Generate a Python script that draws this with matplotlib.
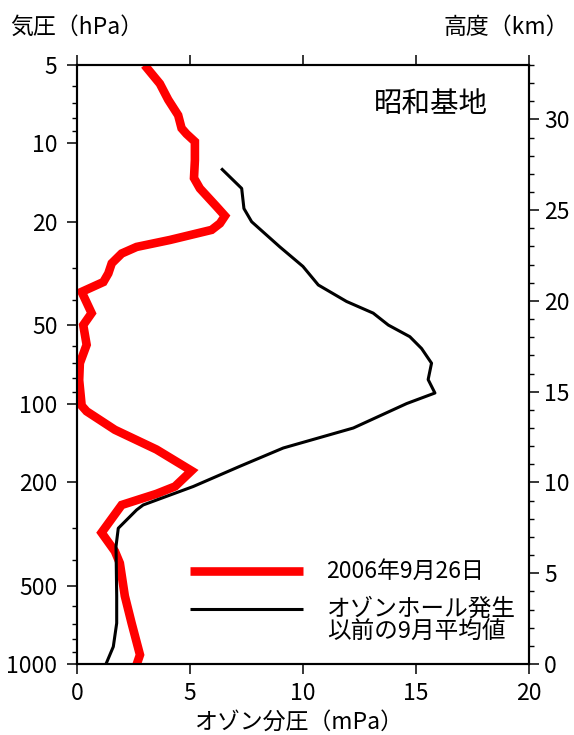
import matplotlib
matplotlib.use('Agg')
import matplotlib.pyplot as plt
from matplotlib.ticker import FixedLocator, FixedFormatter, NullFormatter, MultipleLocator

plt.rcParams['font.family'] = ['Noto Sans CJK JP', 'DejaVu Sans']

# 2006-09-26 profile: pressure (hPa) and ozone partial pressure (mPa)
p_2006 = [5.15, 5.9, 6.8, 7.8, 8.75, 9.2, 9.85, 11.6, 13.6, 14.9, 17.5, 19.0, 20.3,
          21.5, 23.5, 25.0, 26.5, 28.9, 31.6, 34.1, 37.2, 44.9, 49.9, 59.4, 69.9,
          81.2, 101.8, 107, 126, 150, 181, 208, 222, 245, 313, 369, 410, 548, 697,
          922, 989]
o3_2006 = [3.11, 3.67, 4.04, 4.48, 4.63, 4.85, 5.22, 5.22, 5.18, 5.44, 6.18, 6.55, 6.33,
           5.96, 4.12, 2.64, 1.98, 1.54, 1.39, 1.17, 0.21, 0.65, 0.28, 0.43, 0.13,
           0.10, 0.21, 0.43, 1.68, 3.52, 5.07, 4.34, 3.52, 1.98, 1.09, 1.68, 1.90,
           2.12, 2.42, 2.79, 2.67]

# September mean before the ozone hole
p_mean = [12.6, 14.9, 17.8, 20.0, 25.0, 29.7, 35.0, 40.5, 44.9, 49.9, 55.3, 61.4,
          69.9, 80.8, 91.0, 99.9, 124, 148, 174, 208, 245, 256, 301, 353, 548, 697,
          858, 989]
o3_mean = [6.43, 7.29, 7.39, 7.73, 8.98, 10.0, 10.68, 11.93, 13.11, 13.78, 14.73, 15.25,
           15.69, 15.54, 15.84, 14.59, 12.23, 9.13, 7.21, 5.15, 2.93, 2.64, 1.83, 1.73,
           1.76, 1.76, 1.61, 1.31]

p_major = [5, 10, 20, 50, 100, 200, 500, 1000]
p_minor = [6, 7, 8, 9, 30, 40, 60, 70, 80, 90, 300, 400, 600, 700, 800, 900]
x_ticks = [0, 5, 10, 15, 20]
km_ticks = [0, 5, 10, 15, 20, 25, 30]

fig = plt.figure(figsize=(5.74, 7.35), dpi=100)
ax = fig.add_axes([0.134, 0.0966, 0.7875, 0.815])

ax.plot(o3_2006, p_2006, color='#ff0000', lw=6.2, solid_joinstyle='miter', zorder=3)
ax.plot(o3_mean, p_mean, color='black', lw=2.2, zorder=4)

ax.set_yscale('log')
ax.set_ylim(1000, 5)
ax.set_xlim(0, 20)
ax.yaxis.set_major_locator(FixedLocator(p_major))
ax.yaxis.set_minor_locator(FixedLocator(p_minor))
ax.yaxis.set_major_formatter(FixedFormatter([str(v) for v in p_major]))
ax.yaxis.set_minor_formatter(NullFormatter())
ax.xaxis.set_major_locator(FixedLocator(x_ticks))

for s in ax.spines.values():
    s.set_linewidth(1.5)
ax.tick_params(which='major', direction='out', length=7, width=1.1, labelsize=16.5,
               top=True, pad=7)
ax.tick_params(which='minor', direction='out', length=3.5, width=1.0)
ax.tick_params(axis='x', pad=6)

ax2 = ax.twinx()
ax2.set_ylim(0, 33)
ax2.yaxis.set_major_locator(FixedLocator(km_ticks))
ax2.yaxis.set_minor_locator(MultipleLocator(1))
ax2.tick_params(which='major', direction='out', length=7, width=1.1, labelsize=16.5, pad=4)
ax2.tick_params(which='minor', direction='out', length=3.5, width=1.0)
for s in ax2.spines.values():
    s.set_linewidth(1.5)

# station name
ax.text(0.658, 0.935, '昭和基地', transform=ax.transAxes, fontsize=20.5,
        ha='left', va='center')

# hand-drawn legend
ax.plot([0.25, 0.5], [0.155, 0.155], transform=ax.transAxes, color='#ff0000', lw=6.2,
        solid_capstyle='butt')
ax.plot([0.25, 0.5], [0.092, 0.092], transform=ax.transAxes, color='black', lw=2.2,
        solid_capstyle='butt')
ax.text(0.551, 0.155, '2006年9月26日', transform=ax.transAxes, fontsize=16.5,
        ha='left', va='center')
ax.text(0.553, 0.072, 'オゾンホール発生\n以前の9月平均値', transform=ax.transAxes,
        fontsize=17, ha='left', va='center', linespacing=1.0)

fig.text(0.018, 0.963, '気圧（hPa）', fontsize=16.5, ha='left', va='center')
fig.text(0.992, 0.963, '高度（km）', fontsize=16.5, ha='right', va='center')
fig.text(0.52, 0.017, 'オゾン分圧（mPa）', fontsize=16.5, ha='center', va='center')

fig.savefig('out.png', dpi=100, facecolor='white')
